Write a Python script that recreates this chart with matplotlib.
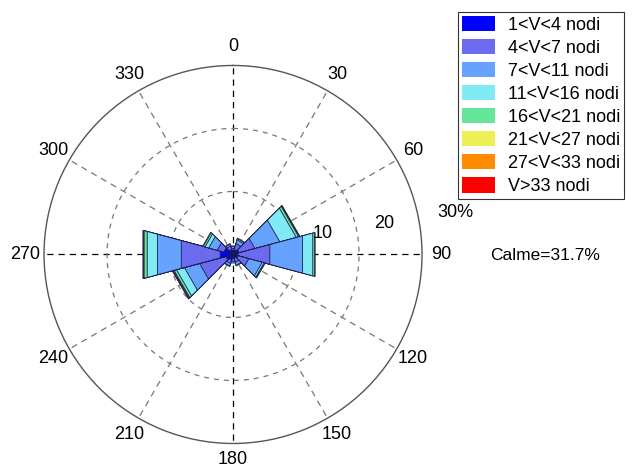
import matplotlib.pyplot as plt
import numpy as np
from matplotlib.patches import Patch

plt.rcParams['font.family'] = ['Liberation Sans', 'DejaVu Sans']

# Wind directions (degrees) and speed classes
directions = [0, 30, 60, 90, 120, 150, 180, 210, 240, 270, 300, 330]
classes = ['1<V<4 nodi', '4<V<7 nodi', '7<V<11 nodi', '11<V<16 nodi',
           '16<V<21 nodi', '21<V<27 nodi', '27<V<33 nodi', 'V>33 nodi']
colors = ['#0000ff', '#6b6bf0', '#66a3ff', '#80eaf5',
          '#66e699', '#eeee55', '#ff8c00', '#ff0000']

# Frequency (%) per direction for each speed class
freq = {
    0:   [0.6, 0.4, 0.3, 0.1, 0.0, 0.0, 0.0, 0.0],
    30:  [0.8, 1.0, 0.6, 0.2, 0.1, 0.0, 0.0, 0.0],
    60:  [1.0, 2.6, 4.1, 2.7, 0.4, 0.1, 0.05, 0.05],
    90:  [0.8, 5.25, 5.35, 1.7, 0.3, 0.1, 0.0, 0.0],
    120: [0.8, 1.8, 2.2, 0.3, 0.1, 0.1, 0.0, 0.0],
    150: [0.6, 0.7, 0.5, 0.1, 0.0, 0.0, 0.0, 0.0],
    180: [0.6, 0.5, 0.3, 0.0, 0.0, 0.0, 0.0, 0.0],
    210: [0.9, 0.6, 0.4, 0.1, 0.0, 0.0, 0.0, 0.0],
    240: [1.2, 4.3, 2.5, 1.3, 0.4, 0.1, 0.1, 0.1],
    270: [2.1, 6.4, 3.9, 1.7, 0.5, 0.1, 0.05, 0.05],
    300: [1.5, 1.1, 1.4, 0.6, 0.3, 0.1, 0.0, 0.0],
    330: [0.8, 0.6, 0.3, 0.1, 0.0, 0.0, 0.0, 0.0],
}
calm = 31.7
rings = [10, 20, 30]
ring_labels = ['10', '20', '30%']
half_width = 15

fig = plt.figure(figsize=(6.38, 4.68), dpi=100)
ax = fig.add_axes([0.0690, 0.0524, 0.5925, 0.8077], projection='polar')
ax.set_theta_zero_location('N')
ax.set_theta_direction(-1)
ax.set_ylim(0, 30)
ax.grid(False)
ax.set_xticks([])
ax.set_yticks([])
ax.spines['polar'].set_color('#555555')
ax.spines['polar'].set_linewidth(1.0)

# spokes
for d in range(0, 360, 30):
    t = np.deg2rad(d)
    if d % 90 == 0:
        ax.plot([t, t], [0, 30], color='black', lw=0.9, ls=(0, (5, 4)), zorder=1)
    else:
        ax.plot([t, t], [0, 30], color='#777777', lw=0.9, ls=(0, (5, 4)), zorder=1)
    r_lab = 32.5 if d == 180 else 33.0
    ax.text(t, r_lab, str(d), ha='center', va='center', fontsize=13)

# rings
th = np.linspace(0, 2 * np.pi, 361)
for r in rings[:-1]:
    ax.plot(th, np.full_like(th, r), color='#777777', lw=0.9, ls=(0, (4, 4)), zorder=1)

# wedges: draw cumulative triangles from outer to inner
for d in directions:
    cum = np.cumsum(freq[d])
    t1 = np.deg2rad(d - half_width)
    t2 = np.deg2rad(d + half_width)
    for k in range(len(classes) - 1, -1, -1):
        if freq[d][k] <= 0:
            continue
        ax.fill([0, t1, t2], [0, cum[k], cum[k]], facecolor=colors[k],
                edgecolor='#1a1a4a', lw=0.6, zorder=3)

# ring labels
ax.text(np.deg2rad(76.6), 14.7, ring_labels[0], ha='center', va='center', fontsize=13, zorder=5)
ax.text(np.deg2rad(78.4), 24.5, ring_labels[1], ha='center', va='center', fontsize=13)
ax.text(np.deg2rad(79.2), 35.9, ring_labels[2], ha='center', va='center', fontsize=13)

fig.text(545 / 638, 1 - 256 / 468, 'Calme=%.1f%%' % calm, ha='center', va='center', fontsize=12.5)

handles = [Patch(facecolor=c, edgecolor='none') for c in colors]
leg = fig.legend(handles, classes, loc='upper left', bbox_to_anchor=(458 / 638, 1 - 12 / 468),
                 fontsize=13, frameon=True, fancybox=False, edgecolor='black',
                 handlelength=1.83, handleheight=0.95, handletextpad=0.72,
                 labelspacing=0.28, borderpad=0.2, borderaxespad=0)
leg.get_frame().set_linewidth(0.8)

plt.savefig('out.png', dpi=100)
